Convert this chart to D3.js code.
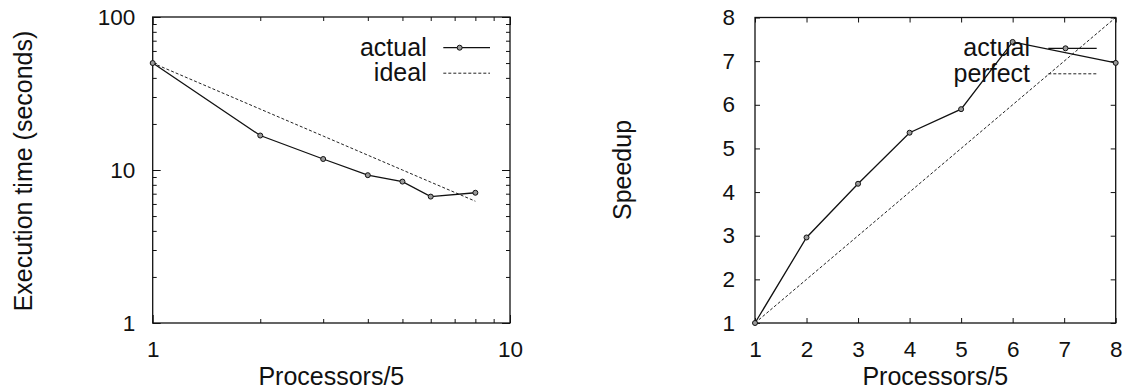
<!DOCTYPE html>
<html>
<head>
<meta charset="utf-8">
<script src="https://cdn.jsdelivr.net/npm/d3@7"></script>
<style>
  body { margin: 0; background: #fff; }
  svg { display: block; font-family: "Liberation Sans", Arial, sans-serif; }
  .tick line { stroke: #111; stroke-width: 1; }
</style>
</head>
<body>
<script>
// processors / 5
const procs = [1, 2, 3, 4, 5, 6, 8]
// execution time in seconds
const timeActual = [50, 16.8, 11.8, 9.25, 8.4, 6.7, 7.1]
const timeIdeal = [50, 25, 16.67, 12.5, 10, 8.33, 6.25]
// speedup
const speedActual = [1, 2.96, 4.19, 5.36, 5.9, 7.44, 6.96]
const speedPerfect = [1, 2, 3, 4, 5, 6, 8]

const logMajor = [1, 10, 100]
const logMinorX = [2, 3, 4, 5, 6, 7, 8, 9]
const logMinorY = [2, 3, 4, 5, 6, 7, 8, 9, 20, 30, 40, 50, 60, 70, 80, 90]
const linTicks = [1, 2, 3, 4, 5, 6, 7, 8]

const svgFrame = { width: 1129, height: 388 }

const svg = d3.select('body').append('svg')
  .attr('width', svgFrame.width)
  .attr('height', svgFrame.height)

const tickFont = 22.5
const labelFont = 25

function drawPanel(opt) {
  const g = svg.append('g')
  const x = opt.x, y = opt.y
  const [x0, x1] = x.range()
  const [y0, y1] = y.range()   // y0 bottom, y1 top

  // mirrored inside ticks
  const addTicks = (vals, size, labels) => {
    const fmtX = labels ? opt.fmt : () => ''
    g.append('g').attr('transform', `translate(0,${y0})`)
      .call(d3.axisBottom(x).tickValues(vals).tickSizeInner(-size).tickSizeOuter(0)
        .tickPadding(18).tickFormat(fmtX))
    g.append('g').attr('transform', `translate(0,${y1})`)
      .call(d3.axisTop(x).tickValues(vals).tickSizeInner(-size).tickSizeOuter(0).tickFormat(''))
  }
  const addTicksY = (vals, size, labels) => {
    const fmtY = labels ? opt.fmt : () => ''
    g.append('g').attr('transform', `translate(${x0},0)`)
      .call(d3.axisLeft(y).tickValues(vals).tickSizeInner(-size).tickSizeOuter(0)
        .tickPadding(opt.ypad).tickFormat(fmtY))
    g.append('g').attr('transform', `translate(${x1},0)`)
      .call(d3.axisRight(y).tickValues(vals).tickSizeInner(-size).tickSizeOuter(0).tickFormat(''))
  }
  addTicks(opt.xMajor, opt.majorLen, true)
  addTicksY(opt.yMajor, opt.majorLen, true)
  if (opt.xMinor) addTicks(opt.xMinor, 4, false)
  if (opt.yMinor) addTicksY(opt.yMinor, 4, false)
  g.selectAll('.domain').remove()
  g.selectAll('.tick text')
    .attr('fill', '#111')
    .style('font-size', tickFont + 'px')
    .style('font-family', '"Liberation Sans", Arial, sans-serif')

  // frame
  g.append('rect')
    .attr('x', x0).attr('y', y1)
    .attr('width', x1 - x0).attr('height', y0 - y1)
    .attr('fill', 'none').attr('stroke', '#111').attr('stroke-width', 1.3)

  // axis titles
  g.append('text')
    .attr('x', (x0 + x1) / 2).attr('y', 384.5)
    .attr('text-anchor', 'middle')
    .style('font-size', labelFont + 'px')
    .attr('fill', '#111')
    .text('Processors/5')
  g.append('text')
    .attr('transform', `translate(${opt.yTitleX},${opt.yTitleY}) rotate(-90)`)
    .attr('text-anchor', 'middle')
    .style('font-size', labelFont + 'px')
    .attr('fill', '#111')
    .text(opt.yTitle)

  const line = d3.line().x(d => x(d[0])).y(d => y(d[1]))

  // dashed reference
  g.append('path')
    .datum(d3.zip(procs, opt.ref))
    .attr('d', line)
    .attr('fill', 'none').attr('stroke', '#222').attr('stroke-width', 1)
    .attr('stroke-dasharray', '3,2')

  // measured
  g.append('path')
    .datum(d3.zip(procs, opt.actual))
    .attr('d', line)
    .attr('fill', 'none').attr('stroke', '#111').attr('stroke-width', 1.3)
  g.selectAll('.pt')
    .data(d3.zip(procs, opt.actual))
    .join('circle')
    .attr('cx', d => x(d[0])).attr('cy', d => y(d[1]))
    .attr('r', 2.5)
    .attr('fill', '#999').attr('stroke', '#111').attr('stroke-width', 1)

  // legend
  const lg = opt.legend
  const names = ['actual', opt.refName]
  names.forEach((name, i) => {
    const ly = lg.y + i * 25.5
    g.append('text')
      .attr('x', lg.textRight).attr('y', ly + 8)
      .attr('text-anchor', 'end')
      .style('font-size', labelFont + 'px')
      .attr('fill', '#111')
      .text(name)
    const seg = g.append('line')
      .attr('x1', lg.lineX0).attr('x2', lg.lineX1)
      .attr('y1', ly).attr('y2', ly)
      .attr('stroke', i === 0 ? '#111' : '#222')
      .attr('stroke-width', i === 0 ? 1.3 : 1)
    if (i === 1) seg.attr('stroke-dasharray', '3,2')
    if (i === 0) {
      g.append('circle')
        .attr('cx', (lg.lineX0 + lg.lineX1) / 2 - 7).attr('cy', ly)
        .attr('r', 2.5)
        .attr('fill', '#999').attr('stroke', '#111').attr('stroke-width', 1)
    }
  })
}

// left: execution time, log-log
drawPanel({
  x: d3.scaleLog().domain([1, 10]).range([152.7, 510]),
  y: d3.scaleLog().domain([1, 100]).range([323, 17]),
  xMajor: logMajor.slice(0, 2),
  yMajor: logMajor,
  xMinor: logMinorX,
  yMinor: logMinorY,
  majorLen: 8,
  ypad: 17.5,
  fmt: d3.format('d'),
  yTitle: 'Execution time (seconds)',
  yTitleX: 32, yTitleY: 171,
  ref: timeIdeal,
  refName: 'ideal',
  actual: timeActual,
  legend: { y: 47.7, textRight: 426.7, lineX0: 443.3, lineX1: 490 }
})

// right: speedup, linear
drawPanel({
  x: d3.scaleLinear().domain([1, 8]).range([755, 1115.7]),
  y: d3.scaleLinear().domain([1, 8]).range([323, 17.5]),
  xMajor: linTicks,
  yMajor: linTicks,
  majorLen: 5,
  ypad: 20,
  fmt: d3.format('d'),
  yTitle: 'Speedup',
  yTitleX: 631, yTitleY: 170,
  ref: speedPerfect,
  refName: 'perfect',
  actual: speedActual,
  legend: { y: 48.3, textRight: 1030, lineX0: 1048.3, lineX1: 1096.7 }
})
</script>
</body>
</html>
